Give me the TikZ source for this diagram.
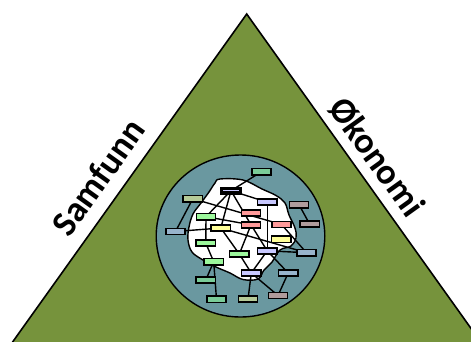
\documentclass[tikz,border=0pt]{standalone}
\usepackage{fontspec}
\setmainfont{Carlito}
\definecolor{trigreen}{HTML}{76933C}
\definecolor{circfill}{HTML}{6A98A0}
\definecolor{cmedgreen}{HTML}{7ACC98}
\definecolor{csage}{HTML}{B5CA97}
\definecolor{clav}{HTML}{C8C8FF}
\definecolor{cmauve}{HTML}{B09C9C}
\definecolor{clgreen}{HTML}{9CF79C}
\definecolor{cpink}{HTML}{FF9A9A}
\definecolor{cyellow}{HTML}{FFFF99}
\definecolor{cbgray}{HTML}{98B4CC}
\pgfdeclarelayer{back}
\pgfdeclarelayer{mid}
\pgfsetlayers{back,mid,main}
\tikzset{
  bx/.style={draw=black, line width=1.6pt, minimum width=19.3pt, minimum height=6.1pt, inner sep=0pt},
  edge/.style={draw=black, line width=1.4pt},
  sidelabel/.style={font=\fontsize{36}{40}\selectfont\bfseries, inner sep=0pt}
}
\begin{document}
\begin{tikzpicture}[x=1pt,y=-1pt]
\useasboundingbox (0,0) rectangle (471,341);
\clip (0,0) rectangle (471,341);
\begin{pgfonlayer}{back}
\fill[white] (0,0) rectangle (471,341);
% triangle
\coordinate (apex) at (246.7,14);
\coordinate (bl) at (13.3,341);
\coordinate (br) at (480,341);
\draw[fill=trigreen, line width=1.6pt, line join=miter] (bl) -- (apex) -- (br) -- ++(0,20) -- ++(-480,0) -- cycle;
% circle
\draw[fill=circfill, line width=1.4pt] (240.5,236) ellipse [x radius=84.3, y radius=81];
% cloud
\draw[fill=white, line width=1.4pt] plot[smooth cycle, tension=0.6] coordinates {
 (220,179) (243,180) (262,189) (276,195.5) (285,203) (289,215) (295,228) (296,238)
 (291,246) (280,250) (272,262) (264,270) (258,279) (243,279.5) (230,273) (216,267)
 (203,260) (192,252) (188,240) (189,227) (193,214) (201,203) (209,192) (215,183)};
\end{pgfonlayer}
% labels
\node[sidelabel, rotate=54.4] (samfunn) at (98,177) {Samfunn};
\node[sidelabel, rotate=-54.4] (okonomi) at (377,157) {Økonomi};
% boxes
\node[bx, fill=cmedgreen] (b1) at (261.5,171.7) {};
\node[draw=black, line width=3.4pt, fill=clav, minimum width=18.5pt, minimum height=4.5pt, inner sep=0pt] (b2) at (231,190.7) {};
\node[bx, fill=csage] (b3) at (192.8,198.7) {};
\node[bx, fill=clav] (b4) at (267.2,202.2) {};
\node[bx, fill=cmauve] (b5) at (299,204.7) {};
\node[bx, fill=clgreen] (b6) at (206,216.7) {};
\node[bx, fill=cpink] (b7) at (251,212.8) {};
\node[bx, fill=cpink] (b8) at (251,224.8) {};
\node[bx, fill=cpink] (b9) at (281.5,224.5) {};
\node[bx, fill=cmauve] (b10) at (309.7,224.2) {};
\node[bx, fill=cyellow] (b11) at (220.8,228) {};
\node[bx, fill=cbgray] (b12) at (175.5,231.5) {};
\node[bx, fill=cyellow] (b13) at (281.3,239.3) {};
\node[bx, fill=clgreen] (b14) at (205.8,243.2) {};
\node[bx, fill=clav] (b15) at (267.2,250.8) {};
\node[bx, fill=cbgray] (b16) at (306.5,252.7) {};
\node[bx, fill=clgreen] (b17) at (239.3,254) {};
\node[bx, fill=clgreen] (b18) at (213.7,261.7) {};
\node[bx, fill=clav] (b19) at (251.3,273) {};
\node[bx, fill=cbgray] (b20) at (288.2,273) {};
\node[bx, fill=cmedgreen] (b21) at (205.7,280.2) {};
\node[bx, fill=cmedgreen] (b22) at (216.5,299.3) {};
\node[bx, fill=csage] (b23) at (248,299.2) {};
\node[bx, fill=cmauve] (b24) at (278,295.5) {};
% edges (behind boxes)
\begin{pgfonlayer}{mid}
\path[edge] (b1.center) -- (b2.center);
\path[edge] (b2.center) -- (b4.center);
\path[edge] (b2.center) -- (b6.center);
\path[edge] (b2.center) -- (b11.center);
\path[edge] (b2.center) -- (b8.center);
\path[edge] (b3.center) -- (b9.center);
\path[edge] (b3.center) -- (b12.center);
\path[edge] (b6.center) -- (b8.center);
\path[edge] (b6.center) -- (b14.center);
\path[edge] (b12.center) -- (b11.center);
\path[edge] (b11.center) -- (b16.center);
\path[edge] (b11.center) -- (b17.center);
\path[edge] (b4.center) -- (b15.center);
\path[edge] (b5.center) -- (b10.center);
\path[edge] (b9.center) -- (b16.center);
\path[edge] (b8.center) -- (b17.center);
\path[edge] (b8.center) -- (b15.center);
\path[edge] (b15.center) -- (b16.center);
\path[edge] (b15.center) -- (b19.center);
\path[edge] (b15.center) -- (b20.center);
\path[edge] (b17.center) -- (b19.center);
\path[edge] (b19.center) -- (b23.center);
\path[edge] (b19.center) -- (b24.center);
\path[edge] (b20.center) -- (b24.center);
\path[edge] (b14.center) -- (b18.center);
\path[edge] (b18.center) -- (b21.center);
\path[edge] (b18.center) -- (b22.center);
\end{pgfonlayer}
\end{tikzpicture}
\end{document}
